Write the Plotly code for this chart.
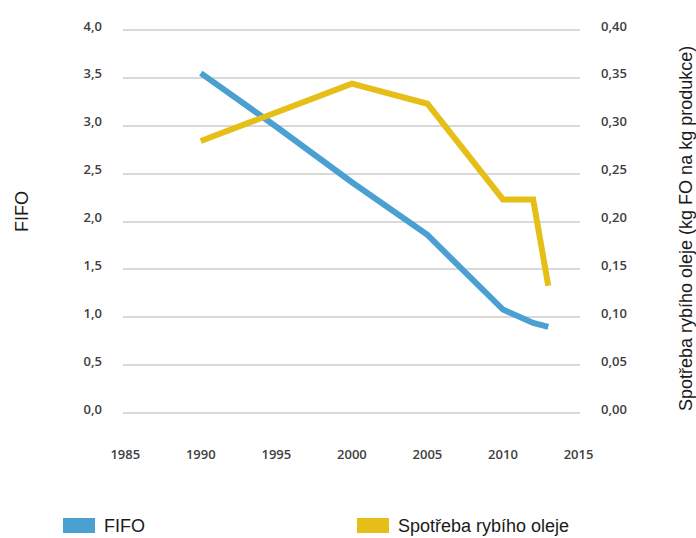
import plotly.graph_objects as go

# data
years = [1990, 1995, 2000, 2005, 2010, 2012, 2013]
fifo = [3.55, 2.99, 2.41, 1.86, 1.08, 0.94, 0.90]
fish_oil = [0.284, 0.314, 0.344, 0.323, 0.223, 0.223, 0.133]

fifo_name = "FIFO"
oil_name = "Spotřeba rybího oleje"
left_title = "FIFO"
right_title = "Spotřeba rybího oleje (kg FO na kg produkce)"

BLUE = "#4BA0D2"
YELLOW = "#E5BF17"

W, H = 696, 538
# plot area a bit taller than the 0..4 grid so the edge gridlines are not clipped
L, R, T, B = 123, 116, 28, 123
pad = 4 * 2 / 383


def px_x(p):
    return (p - L) / (W - L - R)


def px_y(p):
    return (H - B - p) / (H - T - B)


fig = go.Figure()
fig.add_trace(go.Scatter(x=years, y=fifo, name=fifo_name, mode="lines",
                         line=dict(color=BLUE, width=6), showlegend=False))
fig.add_trace(go.Scatter(x=years, y=fish_oil, name=oil_name, mode="lines",
                         line=dict(color=YELLOW, width=6), yaxis="y2", showlegend=False))

tickfont = dict(family="Open Sans", size=13, color="#404040", weight=600)
textfont = dict(family="Liberation Sans", size=18, color="#1a1a1a")

fig.update_layout(
    width=W, height=H,
    margin=dict(l=L, r=R, t=T, b=B),
    paper_bgcolor="white", plot_bgcolor="white",
    separators=", ",
    xaxis=dict(range=[1984.85, 2015.1], dtick=5, tick0=1985, showgrid=False,
               zeroline=False, showline=False, tickfont=tickfont,
               ticklabelstandoff=30),
    yaxis=dict(range=[-pad, 4 + pad], dtick=0.5, tick0=0, tickformat=".1f",
               showgrid=True, gridcolor="#d9d9d9", gridwidth=1.5, zeroline=False,
               tickfont=tickfont, ticklabelstandoff=20, ticklabelshift=-4),
    yaxis2=dict(range=[-pad / 10, 0.4 + pad / 10], dtick=0.05, tick0=0,
                tickformat=".2f", overlaying="y", side="right", showgrid=False,
                zeroline=False, tickfont=tickfont, ticklabelstandoff=20,
                ticklabelshift=-4),
)

# axis titles
fig.add_annotation(xref="paper", yref="paper", x=px_x(22), y=px_y(212),
                   text=left_title, textangle=-90, showarrow=False,
                   xanchor="center", yanchor="middle", font=textfont)
fig.add_annotation(xref="paper", yref="paper", x=px_x(686), y=px_y(229),
                   text=right_title, textangle=-90, showarrow=False,
                   xanchor="center", yanchor="middle", font=textfont)

# legend drawn as boxes + labels under the plot
legend_items = [(fifo_name, BLUE, 63), (oil_name, YELLOW, 357)]
for name, color, left in legend_items:
    fig.add_shape(type="rect", xref="paper", yref="paper",
                  x0=px_x(left), x1=px_x(left + 32), y0=px_y(533), y1=px_y(518),
                  fillcolor=color, line=dict(width=0))
    fig.add_annotation(xref="paper", yref="paper", x=px_x(left + 39), y=px_y(526),
                       text=name, showarrow=False, xanchor="left", yanchor="middle",
                       font=textfont)

# the page body has a default 8px margin; drop it so the figure sits at 0,0
fig.write_html("out.html", config={"displayModeBar": False},
               post_script="document.body.style.margin='0';")
